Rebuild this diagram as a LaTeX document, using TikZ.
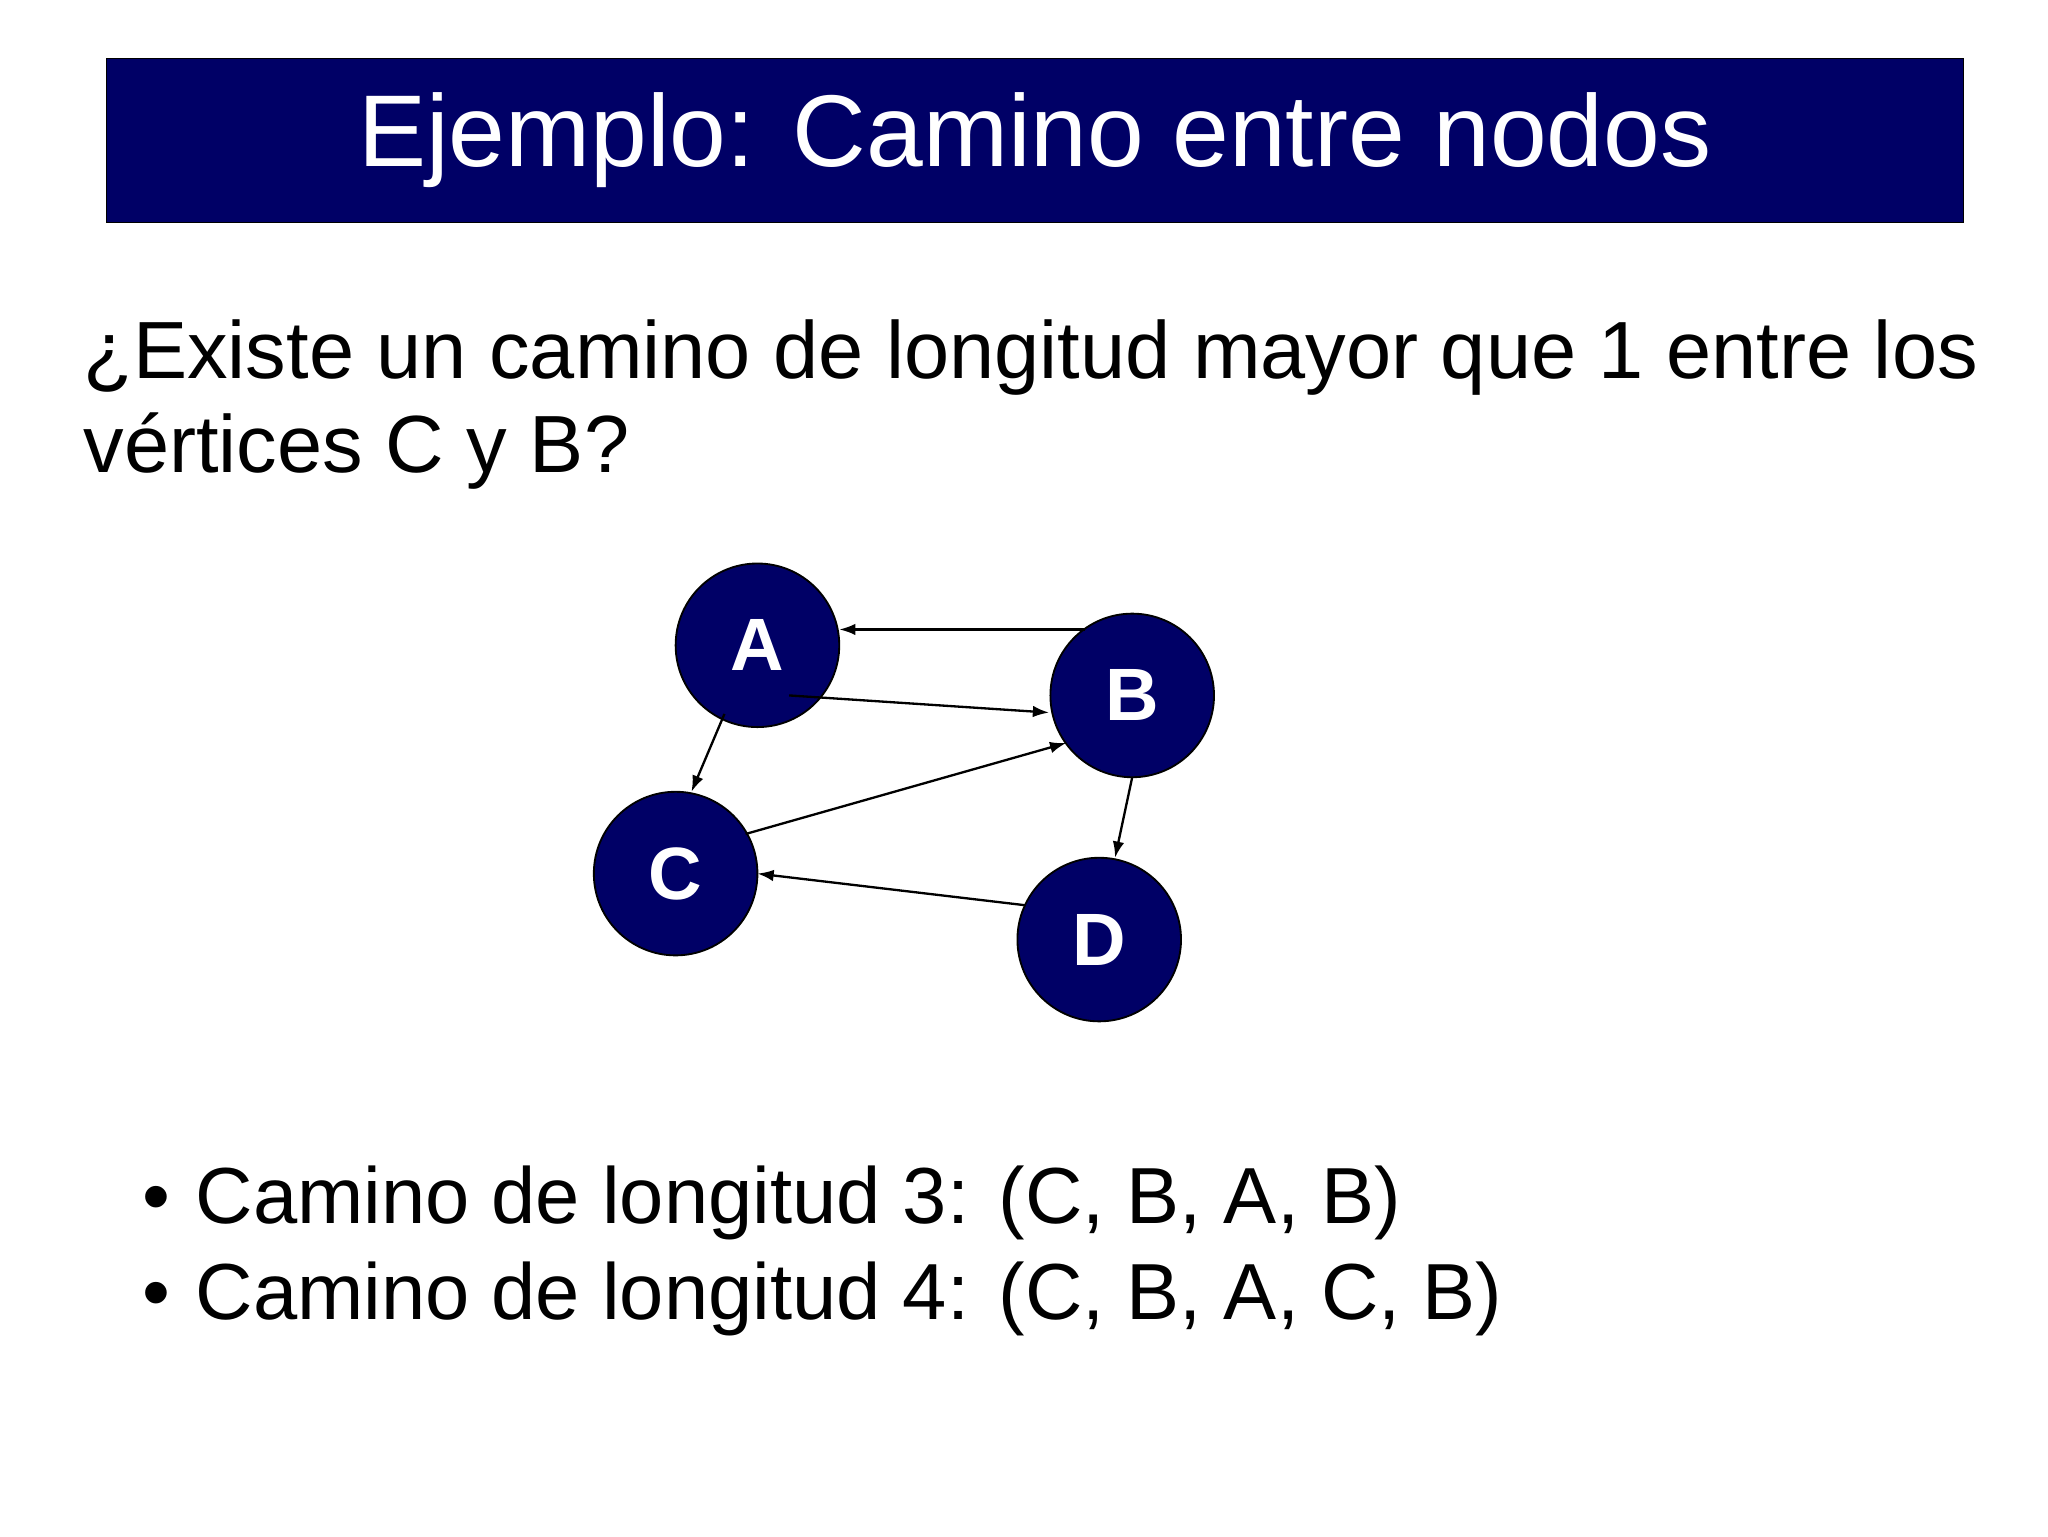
\documentclass[tikz,border=0pt]{standalone}
\usepackage{fontspec}
\setmainfont{Liberation Sans}
\usetikzlibrary{arrows.meta,calc}
\definecolor{navy}{RGB}{0,0,102}
\begin{document}
\begin{tikzpicture}[x=0.02cm,y=-0.02cm,
  vert/.style={circle,draw=black,line width=0.8pt,fill=navy,minimum size=2.48cm,inner sep=0pt,text=white,font=\fontsize{32}{38}\selectfont\bfseries},
  edge/.style={line width=1pt,-{Latex[length=7pt,width=5pt]}},
  txt/.style={anchor=base west,inner sep=0pt,font=\fontsize{35}{42}\selectfont},
  btxt/.style={anchor=base west,inner sep=0pt,font=\fontsize{34.3}{42}\selectfont}]
\useasboundingbox (0,0) rectangle (1552,1164);
\fill[white] (0,0) rectangle (1552,1164);
\node[draw=black,fill=navy,minimum width=28.16cm,minimum height=2.48cm,inner sep=0pt,anchor=north west,text=white,font=\fontsize{44}{54}\selectfont] (title) at (80,44) {Ejemplo: Camino entre nodos};
\node[txt] (q1) at (63,287) {¿Existe un camino de longitud mayor que 1 entre los};
\node[txt] (q2) at (63,358) {vértices C y B?};
\node[vert] (A) at (574,489) {A};
\node[vert] (B) at (858,527) {B};
\node[vert] (C) at (512,662) {C};
\node[vert] (D) at (833,712) {D};
\draw[edge] ($(B)+(-36,-50)$) -- ($(A)+(62,-12)$);
\draw[edge] ($(A)+(24,38)$) -- ($(B)+(-63,13)$);
\draw[edge] ($(A)+(-25,52)$) -- ($(C)+(12,-62)$);
\draw[edge] ($(C)+(53,-30)$) -- ($(B)+(-50,36)$);
\draw[edge] ($(B)+(0,62)$) -- ($(D)+(12,-62)$);
\draw[edge] ($(D)+(-56,-26)$) -- ($(C)+(62,0)$);
\node[btxt] (b1) at (108,927) {•};
\node[btxt] (t1) at (148,927) {Camino de longitud 3: (C, B, A, B)};
\node[btxt] (b2) at (108,1000) {•};
\node[btxt] (t2) at (148,1000) {Camino de longitud 4: (C, B, A, C, B)};
\end{tikzpicture}
\end{document}
